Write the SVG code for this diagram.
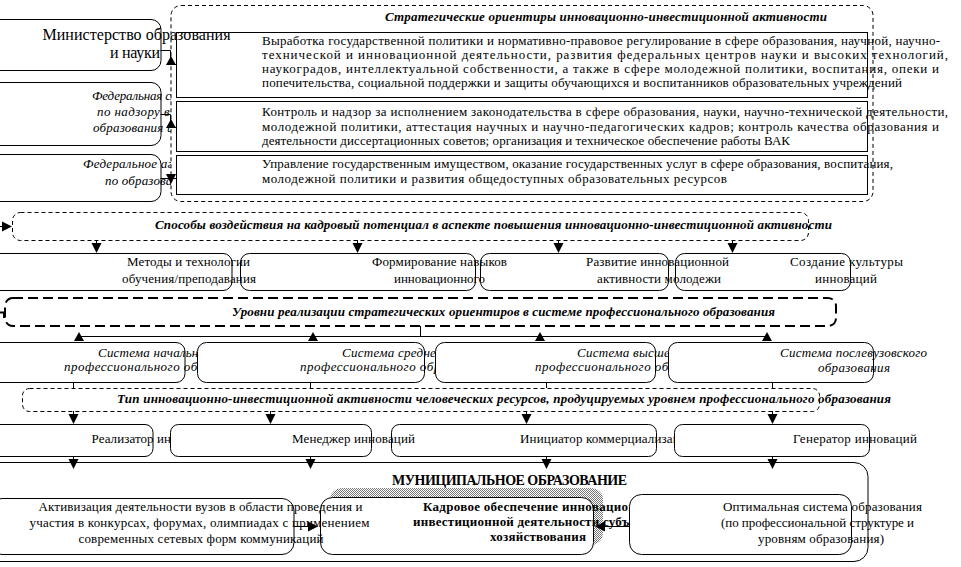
<svg xmlns="http://www.w3.org/2000/svg" width="961" height="567" viewBox="0 0 961 567" font-family="'Liberation Serif', 'DejaVu Serif', serif">
<defs>
<style>
.bx{fill:none;stroke:#000;stroke-width:1}
.wb{fill:#fff;stroke:#000;stroke-width:1}
.d1{fill:none;stroke:#000;stroke-width:1;stroke-dasharray:4 3}
.d2{fill:none;stroke:#000;stroke-width:2;stroke-dasharray:10 5}
.ln{fill:none;stroke:#000;stroke-width:1}
text{font-family:'Liberation Serif','DejaVu Serif',serif;font-size:13px;fill:#000}
.it{font-style:italic}
.bi{font-style:italic;font-weight:bold}
.b{font-weight:bold}
.big{font-size:16px}
.mun{font-size:14px;font-weight:bold}
</style>
<path id="ad" d="M-5,-10 L5,-10 L0,0 Z" fill="#000"/>
<path id="au" d="M-5,9 L5,9 L0,0 Z" fill="#000"/>
<path id="ar" d="M-10,-5 L-10,5 L0,0 Z" fill="#000"/>
<path id="al" d="M10,-5 L10,5 L0,0 Z" fill="#000"/>
<pattern id="hatch" width="2" height="2" patternUnits="userSpaceOnUse"><rect width="2" height="2" fill="#fff"/><rect width="1" height="1" fill="#777"/><rect x="1" y="1" width="1" height="1" fill="#777"/></pattern>
<clipPath id="cL"><rect x="-20" y="0" width="191" height="210"/></clipPath>
<clipPath id="cS1"><rect x="-20" y="330" width="217" height="60"/></clipPath>
<clipPath id="cS2"><rect x="190" y="330" width="245" height="60"/></clipPath>
<clipPath id="cS3"><rect x="430" y="330" width="238" height="60"/></clipPath>
<clipPath id="cR1"><rect x="-20" y="420" width="190" height="40"/></clipPath>
<clipPath id="cR3"><rect x="380" y="420" width="294" height="40"/></clipPath>
<clipPath id="cB2"><rect x="300" y="490" width="329" height="70"/></clipPath>
</defs>
<rect width="961" height="567" fill="#fff"/>

<g id="n-ministry">
<rect class="bx" x="-10" y="19.5" width="171" height="51" rx="10"/>
</g>
<g id="n-fed-service">
<rect class="bx" x="-10" y="82.5" width="171" height="63" rx="10"/>
<g clip-path="url(#cL)">
<text class="it" x="92" y="100" textLength="114">Федеральная служба</text>
<text class="it" x="97" y="116" textLength="111">по надзору в сфере</text>
<text class="it" x="93" y="132" textLength="116">образования и науки</text>
</g>
</g>
<g id="n-fed-agency">
<rect class="bx" x="-10" y="154.5" width="171" height="47" rx="10"/>
<g clip-path="url(#cL)">
<text class="it" x="83" y="168" textLength="140">Федеральное агентство</text>
<text class="it" x="105" y="185" textLength="90">по образованию</text>
</g>
</g>

<g id="n-strategic">
<rect class="d1" x="171" y="5.5" width="702" height="196" rx="10"/>
<text class="bi" x="385" y="21" textLength="442">Стратегические ориентиры инновационно-инвестиционной активности</text>
</g>
<g id="n-policy">
<rect class="bx" x="176.5" y="32.5" width="691" height="65"/>
<text x="262" y="45" textLength="678">Выработка государственной политики и нормативно-правовое регулирование в сфере образования, научной, научно-</text>
<text x="262" y="59" textLength="686">технической и инновационной деятельности, развития федеральных центров науки и высоких технологий,</text>
<text x="262" y="73" textLength="677">наукоградов, интеллектуальной собственности, а также в сфере молодежной политики, воспитания, опеки и</text>
<text x="262" y="87" textLength="640">попечительства, социальной поддержки и защиты обучающихся и воспитанников образовательных учреждений</text>
</g>
<g id="n-control">
<rect class="bx" x="176.5" y="101.5" width="691" height="50"/>
<text x="262" y="116" textLength="686">Контроль и надзор за исполнением законодательства в сфере образования, науки, научно-технической деятельности,</text>
<text x="262" y="130.5" textLength="677">молодежной политики, аттестация научных и научно-педагогических кадров; контроль качества образования и</text>
<text x="262" y="145" textLength="528">деятельности диссертационных советов; организация и техническое обеспечение работы ВАК</text>
</g>
<g id="n-management">
<rect class="bx" x="176.5" y="155.5" width="691" height="39"/>
<text x="262" y="168" textLength="631">Управление государственным имуществом, оказание государственных услуг в сфере образования, воспитания,</text>
<text x="262" y="183" textLength="465">молодежной политики и развития общедоступных образовательных ресурсов</text>
</g>
<g id="n-ministry-text">
<text class="big" x="42.5" y="40" textLength="188">Министерство образования</text>
<text class="big" x="110" y="58" textLength="50">и науки</text>
</g>

<g id="n-ways">
<rect class="d1" x="12.5" y="212.5" width="796" height="28" rx="8"/>
<text class="bi" x="155" y="229" textLength="677">Способы воздействия на кадровый потенциал в аспекте повышения инновационно-инвестиционной активности</text>
</g>
<g id="n-m1">
<rect class="bx" x="-10" y="253.5" width="242" height="37" rx="9"/>
<text x="127" y="266" textLength="123">Методы и технологии</text>
<text x="122" y="283" textLength="134">обучения/преподавания</text>
</g>
<g id="n-m2">
<rect class="bx" x="240.5" y="253.5" width="235" height="37" rx="9"/>
<text x="372" y="266" textLength="135">Формирование навыков</text>
<text x="394" y="283" textLength="91">инновационного</text>
</g>
<g id="n-m3">
<rect class="bx" x="480.5" y="253.5" width="188" height="37" rx="9"/>
<text x="586" y="266" textLength="143">Развитие инновационной</text>
<text x="597" y="283" textLength="124">активности молодежи</text>
</g>
<g id="n-m4">
<rect class="bx" x="675.5" y="253.5" width="175" height="37" rx="9"/>
<text x="790" y="266" textLength="113">Создание культуры</text>
<text x="815" y="283" textLength="62">инноваций</text>
</g>

<g id="n-levels">
<rect class="d2" x="5" y="298" width="831" height="28" rx="8"/>
<text class="bi" x="232" y="316" textLength="543">Уровни реализации стратегических ориентиров в системе профессионального образования</text>
</g>
<g id="n-s1">
<rect class="bx" x="-10" y="342.5" width="195" height="40" rx="9"/>
<g clip-path="url(#cS1)">
<text class="it" x="98" y="357" textLength="119">Система начального</text>
<text class="it" x="64" y="371" textLength="193">профессионального образования</text>
</g>
</g>
<g id="n-s2">
<rect class="bx" x="197.5" y="342.5" width="227" height="40" rx="9"/>
<g clip-path="url(#cS2)">
<text class="it" x="342" y="357" textLength="106">Система среднего</text>
<text class="it" x="300" y="371" textLength="193">профессионального образования</text>
</g>
</g>
<g id="n-s3">
<rect class="bx" x="435.5" y="342.5" width="220" height="40" rx="9"/>
<g clip-path="url(#cS3)">
<text class="it" x="577" y="357" textLength="105">Система высшего</text>
<text class="it" x="535" y="371" textLength="193">профессионального образования</text>
</g>
</g>
<g id="n-s4">
<rect class="bx" x="668.5" y="342.5" width="205" height="40" rx="9"/>
<text class="it" x="780" y="357" textLength="147">Система послевузовского</text>
<text class="it" x="818" y="372" textLength="72">образования</text>
</g>

<g id="n-type">
<rect class="d1" x="22.5" y="388.5" width="797" height="23" rx="7"/>
<text class="bi" x="117" y="403" textLength="774">Тип инновационно-инвестиционной активности человеческих ресурсов, продуцируемых уровнем профессионального образования</text>
</g>
<g id="n-r1">
<rect class="bx" x="-10" y="424.5" width="163" height="32" rx="8"/>
<g clip-path="url(#cR1)"><text x="91.5" y="443" textLength="126">Реализатор инноваций</text></g>
</g>
<g id="n-r2">
<rect class="bx" x="170.5" y="424.5" width="201" height="32" rx="8"/>
<text x="292" y="443" textLength="123">Менеджер инноваций</text>
</g>
<g id="n-r3">
<rect class="bx" x="391.5" y="424.5" width="265" height="32" rx="8"/>
<g clip-path="url(#cR3)"><text x="520" y="443" textLength="174">Инициатор коммерциализации</text></g>
</g>
<g id="n-r4">
<rect class="bx" x="674.5" y="424.5" width="195" height="32" rx="8"/>
<text x="793" y="443" textLength="124">Генератор инноваций</text>
</g>

<g id="n-municipal">
<rect class="bx" x="-20" y="462.5" width="888" height="99" rx="14"/>
<text class="mun" x="392" y="485" textLength="235">МУНИЦИПАЛЬНОЕ ОБРАЗОВАНИЕ</text>
</g>
<g id="n-b1">
<rect class="bx" x="-10" y="498.5" width="304" height="56" rx="12"/>
</g>
<g id="n-b2">
<rect x="330" y="488" width="273" height="57" rx="12" fill="url(#hatch)"/>
<rect class="wb" x="320.5" y="497.5" width="273" height="57" rx="12"/>
<g clip-path="url(#cB2)">
<text class="b" x="423" y="511" textLength="232">Кадровое обеспечение инновационно-</text>
<text class="b" x="413" y="526" textLength="250">инвестиционной деятельности субъектов</text>
</g>
<text class="b" x="490" y="541" textLength="96">хозяйствования</text>
</g>
<g id="n-b3">
<rect class="bx" x="629.5" y="494.5" width="222" height="60" rx="12"/>
<text x="723" y="511" textLength="199">Оптимальная система образования</text>
<text x="721" y="527" textLength="193">(по профессиональной структуре и</text>
<text x="758" y="543" textLength="126">уровням образования)</text>
</g>
<g id="n-b1-text">
<text x="38.5" y="511" textLength="324">Активизация деятельности вузов в области проведения и</text>
<text x="29.5" y="527" textLength="340">участия в конкурсах, форумах, олимпиадах с применением</text>
<text x="78.5" y="543" textLength="245">современных сетевых форм коммуникаций</text>
</g>

<g id="connectors">
<path class="ln" d="M160.5,50.5 H170.5 V64.5 H176"/>
<use href="#au" x="171" y="56"/>
<path class="ln" d="M160.5,114.5 H170.5 V127.5 H176"/>
<use href="#au" x="171" y="119"/>
<path class="ln" d="M160.5,178.5 H176"/>
<use href="#ad" x="171" y="184"/>
<path class="ln" d="M0,226.5 H4"/>
<use href="#ar" x="12" y="226.5"/>
<path class="ln" d="M96.5,240V244 M357.5,240V244 M558.5,240V244 M732.5,240V244"/>
<use href="#ad" x="96.5" y="253"/>
<use href="#ad" x="357.5" y="253"/>
<use href="#ad" x="558.5" y="253"/>
<use href="#ad" x="732.5" y="253"/>
<path d="M0,312.5 H4 V318" fill="none" stroke="#000" stroke-width="2"/>
<path class="ln" d="M420.5,326V336.5 M78,336.5 H767"/>
<use href="#au" x="79" y="332"/>
<use href="#au" x="313" y="332"/>
<use href="#au" x="540" y="332"/>
<use href="#au" x="767" y="332"/>
<path class="ln" d="M73.5,382V388 M310.5,382V388 M546.5,382V388 M772.5,382V388"/>
<path class="ln" d="M73.5,411V415 M270.5,411V415 M526.5,411V415 M772.5,411V415"/>
<use href="#ad" x="73.5" y="424"/>
<use href="#ad" x="270.5" y="424"/>
<use href="#ad" x="526.5" y="424"/>
<use href="#ad" x="772.5" y="424"/>
<path class="ln" d="M73.5,456V460 M310.5,456V460 M546.5,456V460 M772.5,456V460"/>
<use href="#ad" x="73.5" y="469"/>
<use href="#ad" x="310.5" y="469"/>
<use href="#ad" x="546.5" y="469"/>
<use href="#ad" x="772.5" y="469"/>
<path class="ln" d="M294,526.5 H308"/>
<use href="#ar" x="318" y="526.5"/>
<path class="ln" d="M629,526.5 H604"/>
<use href="#al" x="595" y="526.5"/>
</g>
</svg>
